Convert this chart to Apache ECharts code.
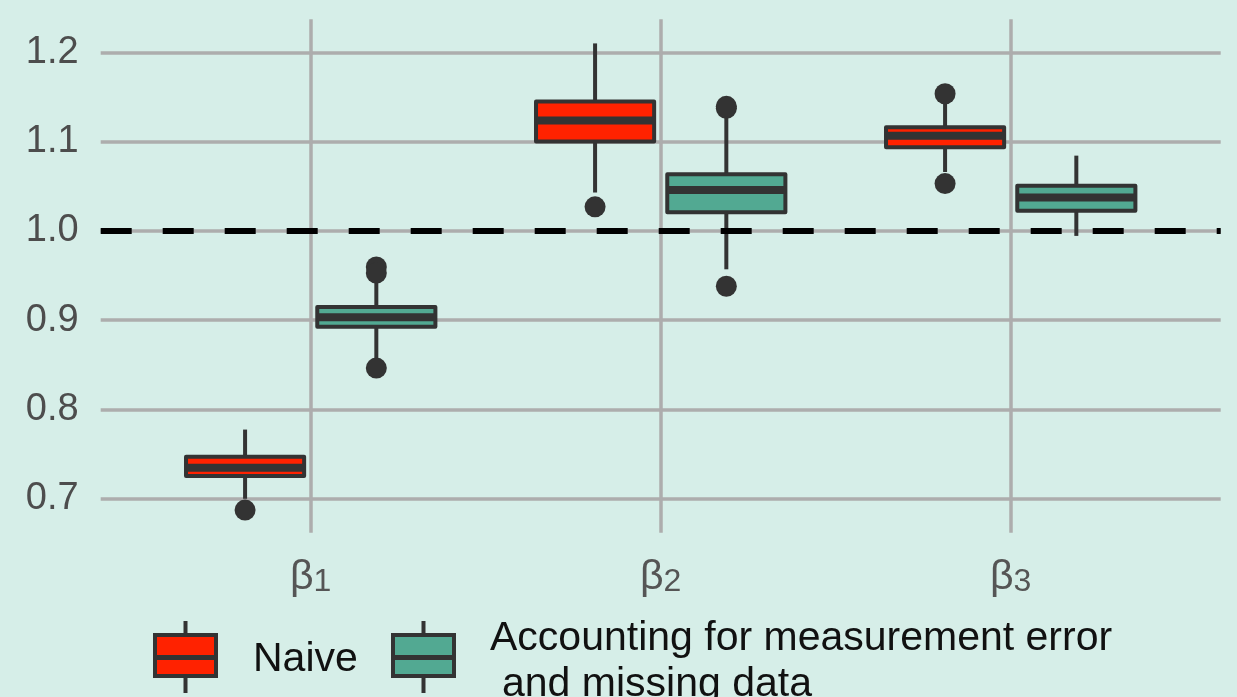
<!DOCTYPE html>
<html>
<head>
<meta charset="utf-8">
<script src="https://cdn.jsdelivr.net/npm/echarts@6/dist/echarts.min.js"></script>
<style>
  html, body { margin: 0; padding: 0; background: #d6eee8; }
  #chart { width: 1237px; height: 697px; }
</style>
</head>
<body>
<div id="chart"></div>
<script>
const categories = ['β1', 'β2', 'β3']
const yTicks = [0.7, 0.8, 0.9, 1.0, 1.1, 1.2]
const referenceLine = 1.0

// [lower whisker, Q1, median, Q3, upper whisker] per coefficient
const naiveBoxes = [
  [0.700, 0.7255, 0.7348, 0.7472, 0.7775],
  [1.043, 1.1000, 1.1236, 1.1450, 1.2100],
  [1.066, 1.0938, 1.1067, 1.1160, 1.1430],
]
const accountingBoxes = [
  [0.857, 0.8927, 0.9034, 0.9149, 0.9450],
  [0.957, 1.0208, 1.0457, 1.0635, 1.1280],
  [0.9944, 1.0225, 1.0374, 1.0506, 1.0843],
]
// [coefficient index, value]
const naiveOutliers = [[0, 0.6873], [1, 1.027], [2, 1.1536], [2, 1.053]]
const accountingOutliers = [[0, 0.9596], [0, 0.9528], [0, 0.8464], [1, 1.1374], [1, 1.1395], [1, 0.938]]

const DARK = '#333333'
const RED = '#ff2200'
const GREEN = '#52a992'
const DODGE = 0.1875
const HALF_W = 0.16875

function boxItem(offset, fill) {
  return function (params, api) {
    const x = api.value(0) + offset
    const lo = api.coord([x, api.value(1)])
    const q1 = api.coord([x, api.value(2)])
    const med = api.coord([x, api.value(3)])
    const q3 = api.coord([x, api.value(4)])
    const hi = api.coord([x, api.value(5)])
    const half = api.size([HALF_W, 0])[0]
    const cx = q1[0]
    return {
      type: 'group',
      children: [
        { type: 'line', shape: { x1: cx, y1: lo[1], x2: cx, y2: q1[1] }, style: { stroke: DARK, lineWidth: 4 } },
        { type: 'line', shape: { x1: cx, y1: q3[1], x2: cx, y2: hi[1] }, style: { stroke: DARK, lineWidth: 4 } },
        { type: 'rect', shape: { x: cx - half, y: q3[1], width: half * 2, height: q1[1] - q3[1] },
          style: { fill, stroke: DARK, lineWidth: 4, lineJoin: 'round' } },
        { type: 'line', shape: { x1: cx - half, y1: med[1], x2: cx + half, y2: med[1] }, style: { stroke: DARK, lineWidth: 8 } },
      ],
    }
  }
}

function outlierItem(offset) {
  return function (params, api) {
    const p = api.coord([api.value(0) + offset, api.value(1)])
    return { type: 'circle', shape: { cx: p[0], cy: p[1], r: 10.5 }, style: { fill: DARK } }
  }
}

function legendKey(x, fill) {
  const cx = x + 32.5
  return [
    { type: 'line', shape: { x1: cx, y1: 621, x2: cx, y2: 693 }, style: { stroke: DARK, lineWidth: 4 } },
    { type: 'rect', shape: { x: x + 2, y: 635, width: 61, height: 41 }, style: { fill, stroke: DARK, lineWidth: 4 } },
    { type: 'line', shape: { x1: x + 2, y1: 657.5, x2: x + 63, y2: 657.5 }, style: { stroke: DARK, lineWidth: 5 } },
  ]
}

const chart = echarts.init(document.getElementById('chart'), null, { renderer: 'canvas' })
const textFont = 'Liberation Sans, Arial, sans-serif'

chart.setOption({
  backgroundColor: '#d6eee8',
  animation: false,
  grid: { left: 100.7, right: 16.3, top: 19.3, bottom: 164.3 },
  xAxis: {
    type: 'value',
    min: -0.6,
    max: 2.6,
    axisLine: { show: false },
    axisTick: { show: false, customValues: [0, 1, 2] },
    splitLine: { show: true, lineStyle: { color: '#adadad', width: 3.5 } },
    axisLabel: {
      customValues: [0, 1, 2],
      margin: 19,
      formatter: v => {
        const s = categories[Math.round(v)]
        return '{b|' + s[0] + '}{s|' + s.slice(1) + '}'
      },
      rich: {
        b: { fontSize: 41, fontFamily: textFont, color: '#555555', lineHeight: 46, verticalAlign: 'bottom' },
        s: { fontSize: 32, fontFamily: textFont, color: '#555555', lineHeight: 27, verticalAlign: 'bottom' },
      },
    },
  },
  yAxis: {
    type: 'value',
    min: 0.662,
    max: 1.237,
    axisLine: { show: false },
    axisTick: { show: false, customValues: yTicks },
    splitLine: { show: true, lineStyle: { color: '#adadad', width: 3.5 } },
    axisLabel: {
      customValues: yTicks,
      formatter: v => v.toFixed(1),
      margin: 22,
      fontSize: 38,
      fontFamily: textFont,
      color: '#4d4d4d',
    },
  },
  series: [
    {
      name: 'Naive',
      type: 'custom',
      renderItem: boxItem(-DODGE, RED),
      encode: { x: 0, y: [1, 2, 3, 4, 5] },
      data: naiveBoxes.map((b, i) => [i, ...b]),
      z: 3,
    },
    {
      name: 'Accounting for measurement error\n and missing data',
      type: 'custom',
      renderItem: boxItem(DODGE, GREEN),
      encode: { x: 0, y: [1, 2, 3, 4, 5] },
      data: accountingBoxes.map((b, i) => [i, ...b]),
      z: 3,
    },
    {
      type: 'custom',
      renderItem: outlierItem(-DODGE),
      encode: { x: 0, y: 1 },
      data: naiveOutliers,
      z: 4,
    },
    {
      type: 'custom',
      renderItem: outlierItem(DODGE),
      encode: { x: 0, y: 1 },
      data: accountingOutliers,
      z: 4,
      markLine: {
        silent: true,
        symbol: 'none',
        label: { show: false },
        lineStyle: { color: '#000000', type: [31, 31], width: 6, cap: 'butt' },
        data: [{ yAxis: referenceLine }],
      },
    },
  ],
  graphic: [
    ...legendKey(153, RED),
    { type: 'text', x: 253, y: 660, style: { text: 'Naive', font: '41px ' + textFont, fill: '#111111', verticalAlign: 'middle' } },
    ...legendKey(391, GREEN),
    { type: 'text', x: 490, y: 638.5, style: { text: 'Accounting for measurement error', font: '41px ' + textFont, fill: '#111111', verticalAlign: 'middle' } },
    { type: 'text', x: 502, y: 685, style: { text: 'and missing data', font: '41px ' + textFont, fill: '#111111', verticalAlign: 'middle' } },
  ],
})
</script>
</body>
</html>
